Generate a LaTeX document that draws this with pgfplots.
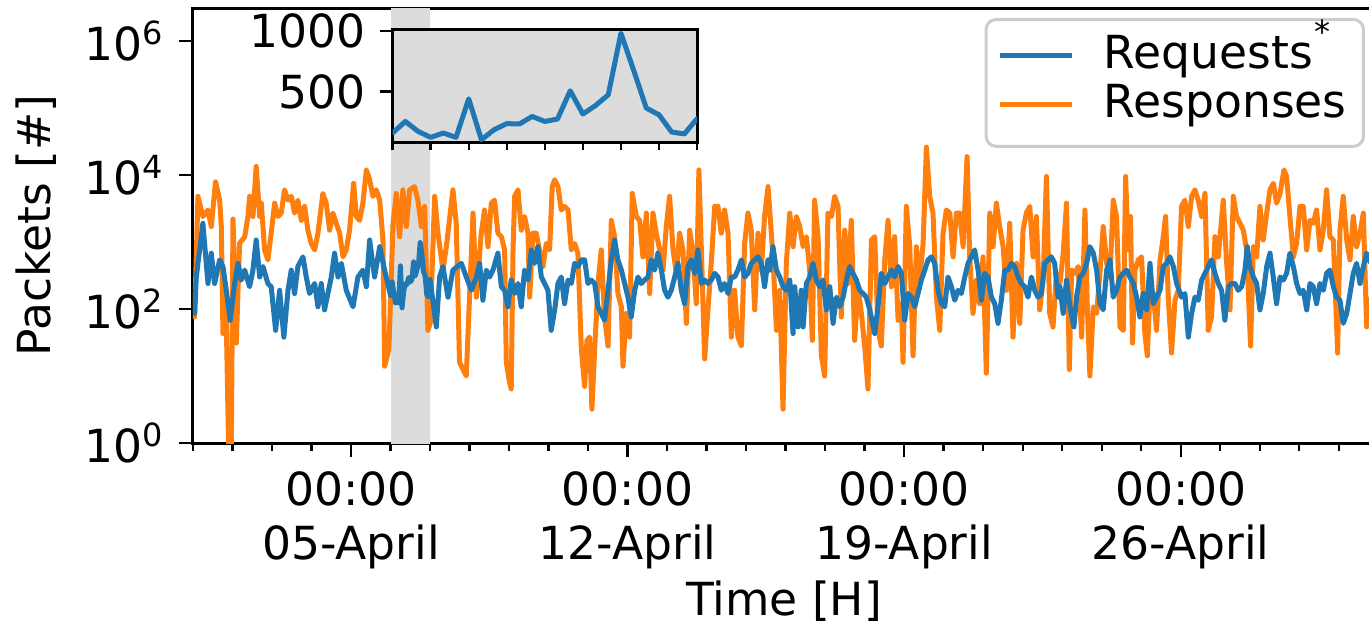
\documentclass[border=0pt]{standalone}
\usepackage{fontspec}
\setmainfont{DejaVu Sans}
\usepackage{pgfplots}
\usepackage{pgfplotstable}
\pgfplotsset{compat=1.18}

\definecolor{reqblue}{HTML}{1F77B4}
\definecolor{resporange}{HTML}{FF7F0E}
\definecolor{spangray}{HTML}{DCDCDC}

% hours since 01-April 00:00, packets per hour
\pgfplotstableread{
h v
0 150
1.0 76
3.0 4800
6.0 2400
9.1 3000
11.1 1700
13.7 7900
16.2 4200
17.2 1700
18.2 43
19.8 240
21.8 0.5
23.2 0.5
24.3 2200
26.3 31
28.3 950
31.4 1200
33.4 2400
34.4 4800
36.4 2400
38.4 13400
40.5 2400
41.5 3800
43.5 760
45.5 540
47.5 1350
49.6 3800
51.6 2400
53.6 2700
55.6 6000
57.7 4200
59.7 4800
61.7 2700
63.7 4200
65.8 2100
67.8 3400
69.8 1500
71.8 950
73.9 760
75.9 1350
78.9 5300
80.9 3800
83.0 1500
85.0 2700
87.0 1900
89.1 1350
91.1 600
93.1 760
95.1 1500
97.6 7500
99.2 2400
101.2 2100
103.2 3800
105.3 11900
107.3 8500
109.3 4800
111.3 6000
113.4 4200
115.4 1070
116.4 14
119.0 25
121.5 1900
123.5 5300
125.5 1200
127.5 6000
129.6 1700
131.6 6000
134.6 6700
136.6 4200
138.7 1700
140.7 3400
142.7 48
144.1 61
146.8 4800
148.8 1350
151.8 380
153.9 850
157.9 6000
159.9 1900
161.9 16
166.0 10
170.1 2700
172.1 150
175.1 1350
177.1 3000
179.2 850
181.2 3800
183.2 4200
185.2 1350
187.3 1200
189.3 760
190.3 16
192.3 8
193.3 6.4
194.4 760
195.4 4800
197.4 6000
199.4 1500
201.4 2400
203.5 1350
204.5 150
206.5 1350
208.5 1350
210.5 760
212.6 430
214.6 950
216.6 760
218.2 6700
219.7 8500
221.7 6700
223.7 3000
225.7 3400
227.8 3000
229.8 760
231.8 950
233.8 680
235.9 25
237.9 7
239.3 34
240.9 38
242.3 3.2
244.0 25
246.0 240
248.0 760
250.0 76
252.1 28
254.1 2100
256.1 1200
258.1 170
260.2 108
261.2 14
263.2 86
265.2 38
266.8 5300
269.3 2400
271.3 2100
273.3 600
275.4 2700
277.4 170
279.4 2700
281.4 1350
283.5 760
285.5 380
287.5 1700
289.5 4800
291.6 760
293.6 340
295.6 1350
297.6 760
299.7 61
301.7 1500
303.7 680
305.7 120
307.3 11900
308.8 760
310.8 18
312.8 97
314.8 480
316.9 3400
318.9 3400
320.9 1350
322.9 3000
325.0 1350
327.0 38
329.0 190
331.0 38
333.1 28
335.1 950
337.1 2700
339.1 1500
341.2 97
343.2 1350
345.2 380
347.2 2400
349.3 6700
352.3 600
354.4 48
356.4 190
358.4 3.2
360.4 480
362.5 2700
364.5 850
366.5 2400
368.5 1700
370.6 850
372.6 1200
374.6 380
376.2 34
377.6 4200
379.7 1200
381.7 20
383.7 10
385.7 2700
387.8 2400
389.8 4800
391.8 3400
393.8 76
395.9 1500
397.9 240
399.9 2100
401.9 34
404.0 215
406.0 86
408.0 28
410.0 6.4
412.1 1070
414.1 1200
416.1 48
418.1 28
420.2 540
422.2 2100
424.2 215
426.2 1200
428.3 68
430.3 120
431.3 16
433.3 3400
435.4 850
437.4 20
439.4 850
441.4 270
443.5 950
445.5 26000
447.5 4800
449.5 2700
451.6 150
453.6 48
455.6 1350
457.6 3000
459.7 2700
461.7 600
463.7 2700
465.7 2700
467.8 850
470.2 18800
471.8 600
473.8 86
475.9 270
477.9 120
479.9 600
481.9 11
484.0 2700
486.0 850
488.0 3800
490.0 1700
492.1 850
494.1 190
496.1 1900
498.1 38
500.2 480
502.2 61
504.2 1500
506.2 2700
508.3 3400
510.3 600
512.3 2400
514.3 97
516.4 270
518.4 9500
520.4 86
522.4 54
524.5 340
526.6 240
528.6 680
530.6 3800
532.3 12.5
533.7 380
535.7 340
537.7 430
539.8 38
541.8 3000
543.2 120
544.8 10
546.9 108
548.9 86
550.9 340
552.9 1700
555.0 480
557.0 300
559.0 4200
561.0 2400
563.1 54
565.1 48
566.5 9500
568.1 760
569.5 2400
570.7 31
572.2 380
574.2 540
576.2 600
578.2 43
579.7 20
581.3 190
583.3 170
585.3 48
587.4 540
589.4 1200
590.8 2400
592.4 150
594.4 22
596.5 135
598.5 190
600.5 3400
602.5 4200
604.6 1700
606.6 4800
608.6 6000
610.6 4200
612.7 2400
614.7 5300
616.7 48
618.7 76
620.8 1200
622.8 600
625.8 4200
627.9 480
629.9 97
631.9 4800
633.9 2400
636.0 1900
638.0 1500
640.0 760
642.4 28
644.1 850
646.1 600
648.1 3400
650.1 1070
652.2 2700
654.2 6000
656.2 7500
658.2 3800
660.3 5300
662.7 11900
664.3 9500
666.3 2400
668.4 600
670.4 950
672.4 3400
674.4 3400
676.5 760
678.5 2100
680.5 1900
682.5 3000
684.6 760
686.6 1500
688.6 6000
690.6 1200
692.7 1070
695.3 22
696.7 1500
698.7 4800
700.8 1070
702.8 540
704.8 2400
706.8 850
708.9 1350
710.9 2700
712.9 54
714.3 97
718.0 300
}\responses

\pgfplotstableread{
h v
0 150
1.0 86
2.0 300
6.0 1900
9.1 240
11.1 680
13.1 240
16.2 540
18.2 430
20.2 190
22.6 68
25.3 240
27.3 480
29.3 270
31.4 380
34.4 215
36.4 380
38.4 1070
40.5 300
42.5 430
45.5 240
47.5 215
50.2 48
52.6 190
55.2 38
57.7 190
59.7 380
61.7 170
63.7 430
66.8 600
68.8 300
70.8 170
73.9 240
75.9 108
77.9 240
79.9 97
84.0 300
86.0 680
88.1 300
90.1 480
93.1 190
97.2 108
100.2 300
103.2 380
105.3 215
107.3 1070
110.3 300
113.4 850
116.4 380
120 159
121 254
122 173
123 123
124 159
125 123
126 440
127 104
128 186
129 236
130 233
131 295
132 254
133 274
134 506
135 315
136 385
137 473
138 979
139 676
140 364
141 309
142 167
143 151
144 276
147.8 54
149.8 300
151.8 430
154.9 150
157.9 380
163.0 480
166.0 300
169.1 190
172.1 300
174.1 480
176.1 135
178.2 380
180.2 300
182.2 380
185.2 680
187.3 215
189.3 190
191.3 108
193.3 270
195.4 170
197.4 240
199.4 108
201.4 380
203.5 270
205.5 760
207.5 480
209.5 850
211.6 300
213.6 240
215.6 190
217.6 48
219.7 97
221.7 240
223.7 300
225.7 120
227.8 270
229.8 240
231.8 480
233.8 430
235.9 540
237.9 540
239.9 240
241.9 270
244.0 240
246.0 108
248.0 86
250.0 68
252.1 190
254.1 540
256.1 1070
258.1 540
260.2 380
262.2 240
264.2 150
266.2 76
268.3 190
270.3 300
272.3 240
274.3 270
276.4 300
278.4 540
280.4 380
282.4 680
284.5 380
286.5 190
288.5 150
290.5 190
292.6 300
294.6 480
296.6 190
298.6 120
300.7 430
302.7 540
304.7 340
306.7 760
308.8 240
310.8 270
312.8 240
314.8 270
316.9 340
318.9 300
320.9 190
322.9 240
325.0 170
327.0 300
329.0 300
331.0 380
333.1 540
335.1 300
337.1 340
339.1 480
341.2 540
343.2 600
345.2 480
347.2 215
349.3 540
350.3 380
352.3 850
354.4 380
356.4 300
358.4 215
360.4 190
362.5 270
364.5 43
365.5 215
367.5 54
369.5 190
370.6 54
372.6 240
374.6 300
376.6 480
378.7 270
380.7 215
382.7 270
384.7 97
386.8 215
388.8 61
390.8 150
392.8 108
394.9 150
396.9 270
398.9 430
400.9 340
403.0 270
405.0 190
407.0 170
409.0 150
411.1 97
414.1 43
416.1 108
418.1 340
420.2 240
422.2 300
424.2 380
426.2 300
428.3 430
430.3 340
432.3 68
434.3 170
436.4 150
438.4 108
440.4 170
442.4 270
444.5 380
446.5 540
448.5 600
450.5 480
452.6 190
454.6 120
456.6 108
458.6 300
460.7 215
462.7 135
464.7 190
466.7 170
468.8 300
470.8 480
472.8 600
474.8 760
476.9 380
478.9 135
480.9 340
482.9 300
485.0 150
487.0 120
489.0 61
491.0 135
493.1 380
495.1 380
497.1 480
499.1 430
501.2 300
503.2 240
505.2 215
507.2 150
509.3 300
511.3 190
513.3 150
515.3 170
517.4 480
519.4 540
521.4 600
523.4 480
525.5 150
526.6 215
528.6 86
530.6 270
532.7 108
535.1 54
536.7 150
538.7 300
540.8 340
542.8 480
544.8 850
546.9 680
548.9 380
550.9 120
552.9 97
555.0 380
557.0 540
559.0 150
561.0 190
563.1 300
565.1 340
567.1 380
569.1 300
571.2 240
573.2 150
575.2 76
577.2 170
579.3 97
581.3 480
583.3 120
585.3 150
587.4 190
589.4 430
591.4 480
593.4 600
595.5 430
597.5 240
600.5 150
602.5 170
604.6 38
606.6 86
608.6 150
610.6 135
612.7 270
614.7 340
616.7 430
618.7 540
620.8 340
622.8 240
624.8 190
626.8 68
628.9 215
630.9 240
632.9 240
634.9 190
637.0 215
639.0 380
640.4 850
642.0 430
644.1 300
646.1 240
648.1 97
650.1 170
652.2 430
654.2 680
656.2 300
658.2 120
660.3 300
662.3 270
664.3 340
666.3 680
668.4 430
670.4 240
672.4 170
674.4 190
676.5 97
678.5 240
680.5 215
682.5 120
684.6 240
686.6 190
688.6 340
690.6 380
692.7 215
694.7 150
696.7 135
698.7 61
700.8 86
702.8 170
704.8 340
706.8 480
708.9 240
710.9 430
712.9 680
714.3 540
718.0 400
}\requests

\begin{document}
\begin{tikzpicture}[font=\fontsize{11.4}{13.6}\selectfont]
\begin{axis}[
  name=main,
  scale only axis,
  width=295.5pt, height=108.75pt,
  xmin=0, xmax=718,
  ymode=log, ymin=1, ymax=3.1e6,
  axis line style={line width=0.75pt},
  tick align=outside,
  xtick pos=bottom, ytick pos=left,
  major tick length=3.6pt, minor tick length=1.9pt,
  tick style={black, line width=0.6pt},
  xtick={96,264,432,600},
  xticklabels={{00:00\\05-April},{00:00\\12-April},{00:00\\19-April},{00:00\\26-April}},
  xticklabel style={align=center},
  minor xtick={0,24,...,720},
  ytick={1,100,10000,1000000},
  yticklabels={10\textsuperscript{0},10\textsuperscript{2},10\textsuperscript{4},10\textsuperscript{6}},
  yminorticks=false,
  xlabel={Time [H]},
  xlabel style={yshift=4pt},
  ylabel={Packets [\#]},
  legend cell align=left,
  legend image code/.code={\path (0pt,0.7pt) (24pt,0.7pt); \draw[#1] (2.25pt,0.7pt) -- (20.25pt,0.7pt);},
  legend style={at={(0.9915,0.977)}, anchor=north east,
    draw=black!20, line width=0.75pt, rounded corners=2.5pt,
    fill=white, fill opacity=0.8, text opacity=1,
    inner xsep=0.5pt, inner ysep=4pt, row sep=0.5pt,
    nodes={inner ysep=0pt, inner xsep=3.7pt, text height=8.3pt, text depth=3.3pt}},
]
\addplot[fill=spangray, draw=none, forget plot] coordinates {(120,0.5) (120,1e7) (144,1e7) (144,0.5)} -- cycle;
\addplot[resporange, line width=1.25pt, line join=round, forget plot] table[x=h, y=v] {\responses};
\addplot[reqblue, line width=1.25pt, line join=round, forget plot] table[x=h, y=v] {\requests};
\addlegendimage{reqblue, line width=1.25pt}
\addlegendentry{Requests\hspace{0.5pt}\raisebox{6.2pt}{\fontsize{8}{8}\selectfont *}}
\addlegendimage{resporange, line width=1.25pt}
\addlegendentry{Responses}
\end{axis}

\begin{axis}[
  at={(49.9pt,75.25pt)}, anchor=south west,
  scale only axis,
  width=76.1pt, height=28.25pt,
  xmin=120, xmax=144, ymin=85, ymax=1014,
  axis background/.style={fill=spangray},
  axis line style={line width=0.75pt},
  tick align=outside,
  xtick pos=bottom, ytick pos=left,
  tick style={black, line width=0.6pt},
  major tick length=3.2pt,
  xtick={120,123,...,144}, xticklabels={},
  xtick style={/pgfplots/major tick length=2.1pt},
  ytick={500,1000}, yticklabels={500,1000},
]
\addplot[reqblue, line width=1.25pt, line join=round] table[x=h, y=v] {\requests};
\end{axis}

\pgfresetboundingbox
\path[use as bounding box] (-48.25pt,-44.75pt) rectangle (294pt,110.75pt);
\end{tikzpicture}
\end{document}
